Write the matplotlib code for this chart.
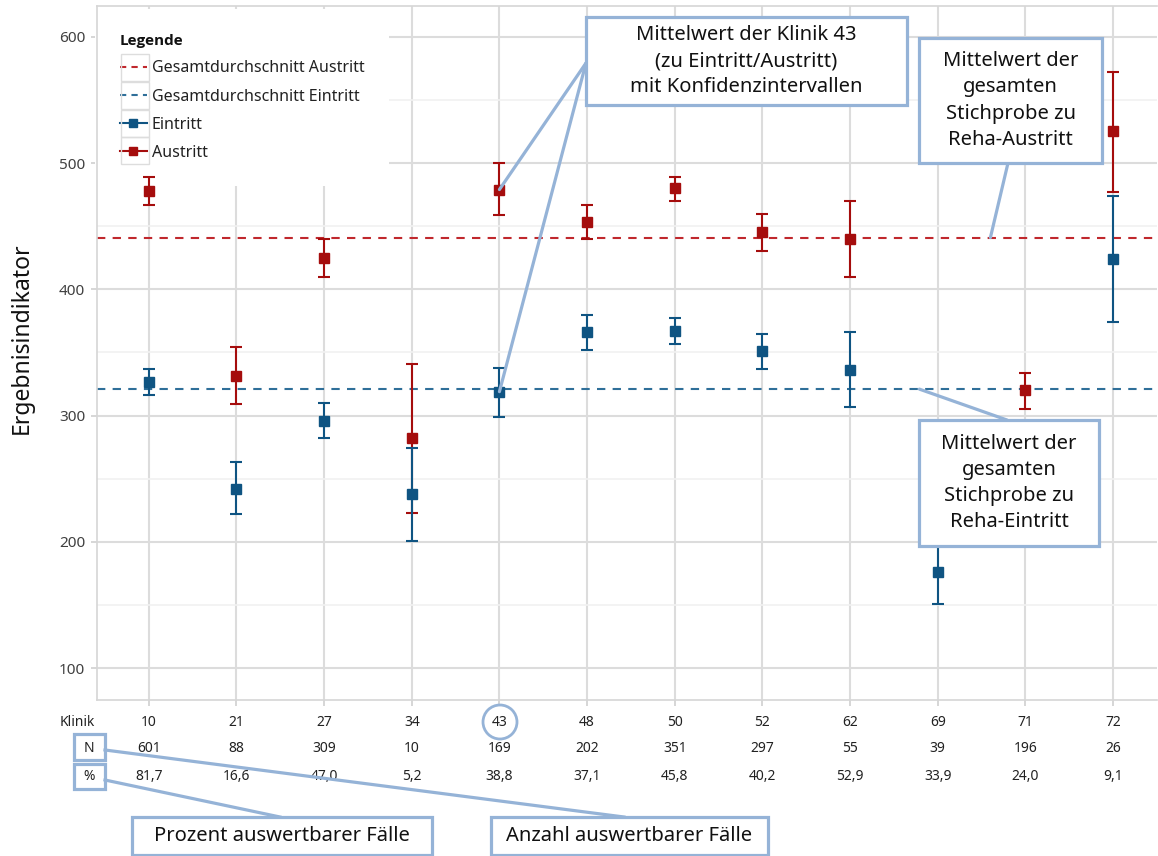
import numpy as np
import matplotlib
matplotlib.use('Agg')
import matplotlib.pyplot as plt
from matplotlib import font_manager
from matplotlib.lines import Line2D
from matplotlib.patches import Rectangle, Ellipse, ConnectionPatch

# data
klinik = ['10', '21', '27', '34', '43', '48', '50', '52', '62', '69', '71', '72']
n_cases = ['601', '88', '309', '10', '169', '202', '351', '297', '55', '39', '196', '26']
pct_cases = ['81,7', '16,6', '47,0', '5,2', '38,8', '37,1', '45,8', '40,2', '52,9', '33,9', '24,0', '9,1']

ein_mean = [327, 242, 296, 238, 319, 366, 367, 351, 336, 176, np.nan, 424]
ein_lo = [316, 222, 282, 201, 299, 352, 357, 337, 307, 151, np.nan, 374]
ein_hi = [337, 263, 310, 274, 338, 380, 377, 365, 366, 200, np.nan, 474]

aus_mean = [478, 331, 425, 282, 479, 453, 480, 445, 440, np.nan, 320, 525]
aus_lo = [467, 309, 410, 223, 459, 440, 470, 430, 410, np.nan, 305, 477]
aus_hi = [489, 354, 440, 341, 500, 467, 489, 460, 470, np.nan, 334, 572]

total_aus = 441
total_ein = 321

# colours
RED = '#A50D0D'
BLUE = '#0F5482'
RED_DASH = '#C0282D'
BLUE_DASH = '#2F6F99'
GRID = '#DCDCDC'
BOX = '#95B3D7'

fonts = font_manager.fontManager.ttflist
available = {f.name for f in fonts}
main_font = 'Noto Sans' if 'Noto Sans' in available else 'DejaVu Sans'
plt.rcParams['font.family'] = [main_font, 'DejaVu Sans']

# a family that really has a bold face, for the legend title
bold_font = 'DejaVu Sans'
for cand in [main_font, 'Open Sans', 'Lato']:
    if any(f.name == cand and f.weight in (700, 'bold') for f in fonts):
        bold_font = cand
        break

W, H = 1158, 856


def fp(x, y):
    # pixel position in the reference -> figure fraction
    return (x / W, 1 - y / H)


fig = plt.figure(figsize=(W / 100, H / 100), dpi=100)
ax = fig.add_axes([97 / W, 1 - 700 / H, 1060 / W, 694 / H])

x = np.arange(len(klinik))

# overall means
ax.axhline(total_aus, color=RED_DASH, lw=1.5, ls=(0, (4, 3.5)), zorder=2)
ax.axhline(total_ein, color=BLUE_DASH, lw=1.5, ls=(0, (4, 3.5)), zorder=2)

# clinic means with confidence intervals
a_mean = np.array(aus_mean)
ax.errorbar(x, a_mean, yerr=[a_mean - np.array(aus_lo), np.array(aus_hi) - a_mean],
            fmt='s', color=RED, ms=6.5, elinewidth=1.5, capsize=4.2, capthick=1.5, zorder=3)
e_mean = np.array(ein_mean)
ax.errorbar(x, e_mean, yerr=[e_mean - np.array(ein_lo), np.array(ein_hi) - e_mean],
            fmt='s', color=BLUE, ms=6.5, elinewidth=1.5, capsize=4.2, capthick=1.5, zorder=3)

# axes styling
ax.set_xlim(-0.59, 11.5)
ax.set_ylim(74.9, 624.3)
ax.set_yticks([100, 200, 300, 400, 500, 600])
ax.set_yticks([150, 250, 350, 450, 550], minor=True)
ax.set_xticks(x)
ax.set_xticklabels([])
ax.grid(True, which='major', color=GRID, lw=1.5, zorder=0)
ax.grid(True, which='minor', axis='y', color='#F1F1F1', lw=1.2, zorder=0)
ax.set_axisbelow(True)
ax.tick_params(axis='y', which='major', length=4.5, width=1.2, color='#D0D0D0',
               labelsize=11, labelcolor='#404040', pad=4)
ax.tick_params(axis='y', which='minor', length=0)
ax.tick_params(axis='x', length=4, width=1.2, color='#D0D0D0')
for side in ['left', 'bottom', 'top']:
    ax.spines[side].set_color('#D6D6D6')
    ax.spines[side].set_linewidth(1.2)
ax.spines['right'].set_visible(False)

fig.text(*fp(22, 338), 'Ergebnisindikator', rotation=90, ha='center', va='center',
         fontsize=16.5, color='#111111')

# legend
handles = [
    Line2D([], [], color=RED_DASH, lw=1.5, ls=(0, (3, 2.5))),
    Line2D([], [], color=BLUE_DASH, lw=1.5, ls=(0, (3, 2.5))),
    Line2D([], [], color=BLUE, lw=1.5, marker='s', ms=6),
    Line2D([], [], color=RED, lw=1.5, marker='s', ms=6),
]
labels = ['Gesamtdurchschnitt Austritt', 'Gesamtdurchschnitt Eintritt', 'Eintritt', 'Austritt']
leg = ax.legend(handles, labels, loc='upper left', bbox_to_anchor=(-0.002, 0.995), borderaxespad=0,
                title='Legende', alignment='left', fontsize=11.5,
                frameon=True, facecolor='white', framealpha=1, fancybox=False,
                borderpad=1.55, labelspacing=0.76, handlelength=1.72, handletextpad=0.3)
leg.get_title().set_fontfamily(bold_font)
leg.get_title().set_fontweight('bold')
leg.get_title().set_fontsize(11)
leg.get_title().set_color('#111111')
leg.get_frame().set_edgecolor('none')
leg.get_frame().set_linewidth(0)
# under the spines and the error bars, over the grid
leg.set_zorder(2.4)
for t in leg.get_texts():
    t.set_color('#222222')

# faint cells around the legend handles
for top in [54, 82, 110, 137]:
    fig.add_artist(Rectangle(fp(121, top + 27), 28 / W, 27 / H, transform=fig.transFigure,
                             fill=False, edgecolor='#DDDDDD', lw=1.0, zorder=6))

# table below the axis
trans = matplotlib.transforms.blended_transform_factory(ax.transData, fig.transFigure)
row_y = {'Klinik': 723, 'N': 749, '%': 777}
for i in range(len(klinik)):
    for key, vals in [('Klinik', klinik), ('N', n_cases), ('%', pct_cases)]:
        ax.text(x[i], fp(0, row_y[key])[1], vals[i], transform=trans, ha='center', va='center',
                fontsize=10, color='#222222')
fig.text(*fp(77, row_y['Klinik']), 'Klinik', ha='center', va='center', fontsize=10, color='#222222')
fig.text(*fp(89, row_y['N']), 'N', ha='center', va='center', fontsize=10, color='#222222')
fig.text(*fp(89, row_y['%']), '%', ha='center', va='center', fontsize=10, color='#222222')


def callout_box(x0, y0, x1, y1, text):
    fig.add_artist(Rectangle(fp(x0, y1), (x1 - x0) / W, (y1 - y0) / H, transform=fig.transFigure,
                             facecolor='white', edgecolor=BOX, lw=2.3, zorder=5))
    fig.text(*fp((x0 + x1) / 2, (y0 + y1) / 2), text, ha='center', va='center', fontsize=14.5,
             color='#111111', linespacing=1.42, zorder=6)


def fig_line(p0, p1):
    fig.add_artist(Line2D([p0[0] / W, p1[0] / W], [1 - p0[1] / H, 1 - p1[1] / H],
                          transform=fig.transFigure, color=BOX, lw=2.3, zorder=4))


def data_line(p0, xy):
    fig.add_artist(ConnectionPatch(xyA=fp(*p0), coordsA=fig.transFigure, xyB=xy, coordsB=ax.transData,
                                   color=BOX, lw=2.3, zorder=4))


# callouts
data_line((586, 63), (4, aus_mean[4]))
data_line((586, 63), (4, ein_mean[4]))
callout_box(586, 17, 907, 105, 'Mittelwert der Klinik 43\n(zu Eintritt/Austritt)\nmit Konfidenzintervallen')

data_line((1008, 163), (9.6, total_aus))
callout_box(919, 38, 1102, 163, 'Mittelwert der\ngesamten\nStichprobe zu\nReha-Austritt')

data_line((1007, 420), (8.79, total_ein))
callout_box(919, 420, 1099, 546, 'Mittelwert der\ngesamten\nStichprobe zu\nReha-Eintritt')

# marks around the table labels
fig.add_artist(Rectangle(fp(74, 760), 31 / W, 26 / H, transform=fig.transFigure,
                         fill=False, edgecolor=BOX, lw=2.3, zorder=5))
fig.add_artist(Rectangle(fp(74, 789), 31 / W, 25 / H, transform=fig.transFigure,
                         fill=False, edgecolor=BOX, lw=2.3, zorder=5))
fig.add_artist(Ellipse(fp(500, 722), 34 / W, 34 / H, transform=fig.transFigure,
                       fill=False, edgecolor=BOX, lw=2.0, zorder=5))

fig_line((105, 750), (624, 817))
fig_line((105, 780), (280, 817))
callout_box(132, 817, 432, 855, 'Prozent auswertbarer Fälle')
callout_box(491, 817, 768, 855, 'Anzahl auswertbarer Fälle')

fig.savefig('out.png', dpi=100, facecolor='white')
